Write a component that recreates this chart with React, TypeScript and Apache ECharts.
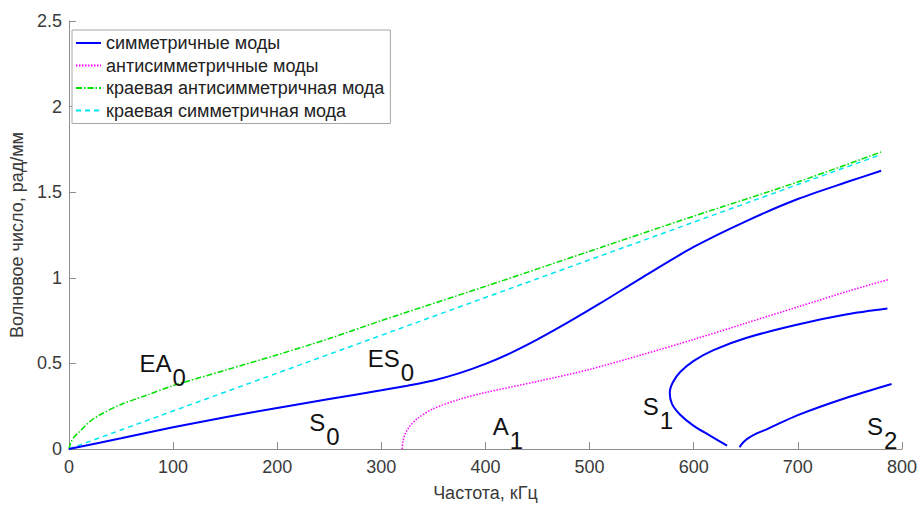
import React, { useEffect, useRef } from "react";
import * as echarts from "echarts";

const FONT = "'Liberation Sans', Arial, Helvetica, sans-serif";

// S0 (symmetric mode)
const s0Freq = [0, 50, 100, 150, 200, 250, 300, 325, 350, 375, 400, 425, 450, 480, 510, 550, 600, 650, 700, 750, 780];
const s0Wave = [0, 0.063, 0.127, 0.185, 0.24, 0.292, 0.343, 0.37, 0.4, 0.443, 0.497, 0.563, 0.64, 0.742, 0.85, 1.0, 1.18, 1.33, 1.46, 1.565, 1.625];
// S1 (symmetric mode, backward branch + forward branch)
const s1Freq = [632, 616, 600, 587, 579, 577, 580, 587, 600, 619, 651, 700, 746, 786];
const s1Wave = [0.02, 0.077, 0.135, 0.2, 0.265, 0.33, 0.39, 0.45, 0.515, 0.578, 0.65, 0.727, 0.785, 0.82];
// S2 (symmetric mode)
const s2Freq = [644, 647, 651, 660, 670, 700, 746, 790];
const s2Wave = [0.01, 0.035, 0.058, 0.09, 0.115, 0.198, 0.298, 0.38];
// A1 (antisymmetric mode)
const a1Freq = [320, 321, 323, 327, 335, 350, 375, 400, 450, 500, 550, 600, 650, 700, 750, 787];
const a1Wave = [0, 0.05, 0.09, 0.13, 0.18, 0.235, 0.29, 0.33, 0.395, 0.465, 0.55, 0.64, 0.735, 0.83, 0.925, 0.99];
// EA0 (edge antisymmetric mode)
const ea0Freq = [0, 2, 5, 10, 20, 30, 50, 75, 100, 150, 200, 250, 300, 400, 500, 600, 700, 780];
const ea0Wave = [0, 0.04, 0.07, 0.1, 0.16, 0.2, 0.26, 0.315, 0.37, 0.46, 0.55, 0.645, 0.75, 0.95, 1.155, 1.36, 1.56, 1.735];
// ES0 (edge symmetric mode)
const es0Freq = [0, 100, 200, 300, 400, 500, 600, 700, 780];
const es0Wave = [0, 0.222, 0.443, 0.664, 0.885, 1.105, 1.325, 1.545, 1.72];

const legendNames = [
  "симметричные моды",
  "антисимметричные моды",
  "краевая антисимметричная мода",
  "краевая симметричная мода",
];

// mode annotations (main text, subscript, anchor: left edge / baseline in data units)
const labelMain = ["EA", "ES", "S", "A", "S", "S"];
const labelSub = ["0", "0", "0", "1", "1", "2"];
const labelFreq = [67.7, 287, 230.7, 407, 551, 766.4];
const labelWave = [0.473, 0.502, 0.127, 0.104, 0.219, 0.104];

const zip = (xs: number[], ys: number[]) => xs.map((x, i) => [x, ys[i]]);

export default function App() {
  const ref = useRef<HTMLDivElement>(null);
  useEffect(() => {
    if (!ref.current) return;
    const chart = echarts.init(ref.current, null, { renderer: "svg" });
    const axisColor = "#8c8c8c";
    const labelColor = "#3a3a3a";
    const blue = "#0000ff";
    const symLine = (name: string, data: number[][]) => ({
      type: "line",
      name,
      data,
      symbol: "none",
      showSymbol: false,
      smooth: 0.3,
      lineStyle: { color: blue, width: 2 },
      itemStyle: { color: blue },
      z: 5,
    });
    chart.setOption({
      animation: false,
      backgroundColor: "#ffffff",
      grid: { left: 64, right: 17, top: 21, bottom: 52, containLabel: false },
      legend: {
        data: legendNames,
        orient: "vertical",
        left: 72,
        top: 30,
        padding: [4, 6, 4, 3],
        itemWidth: 25,
        itemHeight: 12,
        itemGap: 4.5,
        backgroundColor: "#ffffff",
        borderColor: "#a6a6a6",
        borderWidth: 1,
        borderRadius: 0,
        itemStyle: { opacity: 0 },
        textStyle: { fontFamily: FONT, fontSize: 18, color: "#222", lineHeight: 18 },
        selectedMode: false,
      },
      xAxis: {
        type: "value",
        min: 0,
        max: 800,
        interval: 100,
        name: "Частота, кГц",
        nameLocation: "middle",
        nameGap: 35,
        nameTextStyle: { fontFamily: FONT, fontSize: 18, color: labelColor },
        axisLine: { show: true, lineStyle: { color: axisColor, width: 1 } },
        axisTick: { show: true, inside: true, length: 7, lineStyle: { color: axisColor } },
        axisLabel: { fontFamily: FONT, fontSize: 18, color: labelColor, margin: 9 },
        splitLine: { show: false },
      },
      yAxis: {
        type: "value",
        min: 0,
        max: 2.5,
        interval: 0.5,
        name: "Волновое число, рад/мм",
        nameLocation: "middle",
        nameGap: 37,
        nameRotate: 90,
        nameTextStyle: { fontFamily: FONT, fontSize: 18, color: labelColor },
        axisLine: { show: true, lineStyle: { color: axisColor, width: 1 } },
        axisTick: { show: true, inside: true, length: 7, lineStyle: { color: axisColor } },
        axisLabel: { fontFamily: FONT, fontSize: 18, color: labelColor, margin: 7 },
        splitLine: { show: false },
      },
      series: [
        symLine(legendNames[0], zip(s0Freq, s0Wave)),
        symLine(legendNames[0], zip(s1Freq, s1Wave)),
        symLine(legendNames[0], zip(s2Freq, s2Wave)),
        {
          type: "line",
          name: legendNames[1],
          data: zip(a1Freq, a1Wave),
          symbol: "none",
          smooth: 0.3,
          lineStyle: { color: "#ff00ff", width: 1.5, type: [1.5, 1.5] },
          itemStyle: { color: "#ff00ff" },
          z: 4,
        },
        {
          type: "line",
          name: legendNames[2],
          data: zip(ea0Freq, ea0Wave),
          symbol: "none",
          smooth: 0.3,
          lineStyle: { color: "#00e000", width: 1.5, type: [6, 2, 1.5, 2] },
          itemStyle: { color: "#00e000" },
          z: 4,
        },
        {
          type: "line",
          name: legendNames[3],
          data: zip(es0Freq, es0Wave),
          symbol: "none",
          lineStyle: { color: "#00e5f0", width: 1.5, type: [5, 4] },
          itemStyle: { color: "#00e5f0" },
          z: 3,
        },
      ],
    });

    const ctx = document.createElement("canvas").getContext("2d");
    if (ctx) ctx.font = `24px ${FONT}`;
    const textStyle = (text: string) => ({
      text,
      fontFamily: FONT,
      fontSize: 24,
      fill: "#111",
      verticalAlign: "top",
      align: "left",
    });
    const graphics: any[] = [];
    labelMain.forEach((m, i) => {
      const p = chart.convertToPixel({ gridIndex: 0 }, [labelFreq[i], labelWave[i]]) as number[];
      const w = ctx ? ctx.measureText(m).width : m.length * 16;
      graphics.push({ type: "text", x: p[0], y: p[1] - 17, z: 100, style: textStyle(m) });
      graphics.push({ type: "text", x: p[0] + w + 1, y: p[1] - 17 + 14, z: 100, style: textStyle(labelSub[i]) });
    });
    chart.setOption({ graphic: graphics });

    return () => chart.dispose();
  }, []);
  return <div ref={ref} style={{ width: 920, height: 507, position: "absolute", left: 0, top: 0 }} />;
}
